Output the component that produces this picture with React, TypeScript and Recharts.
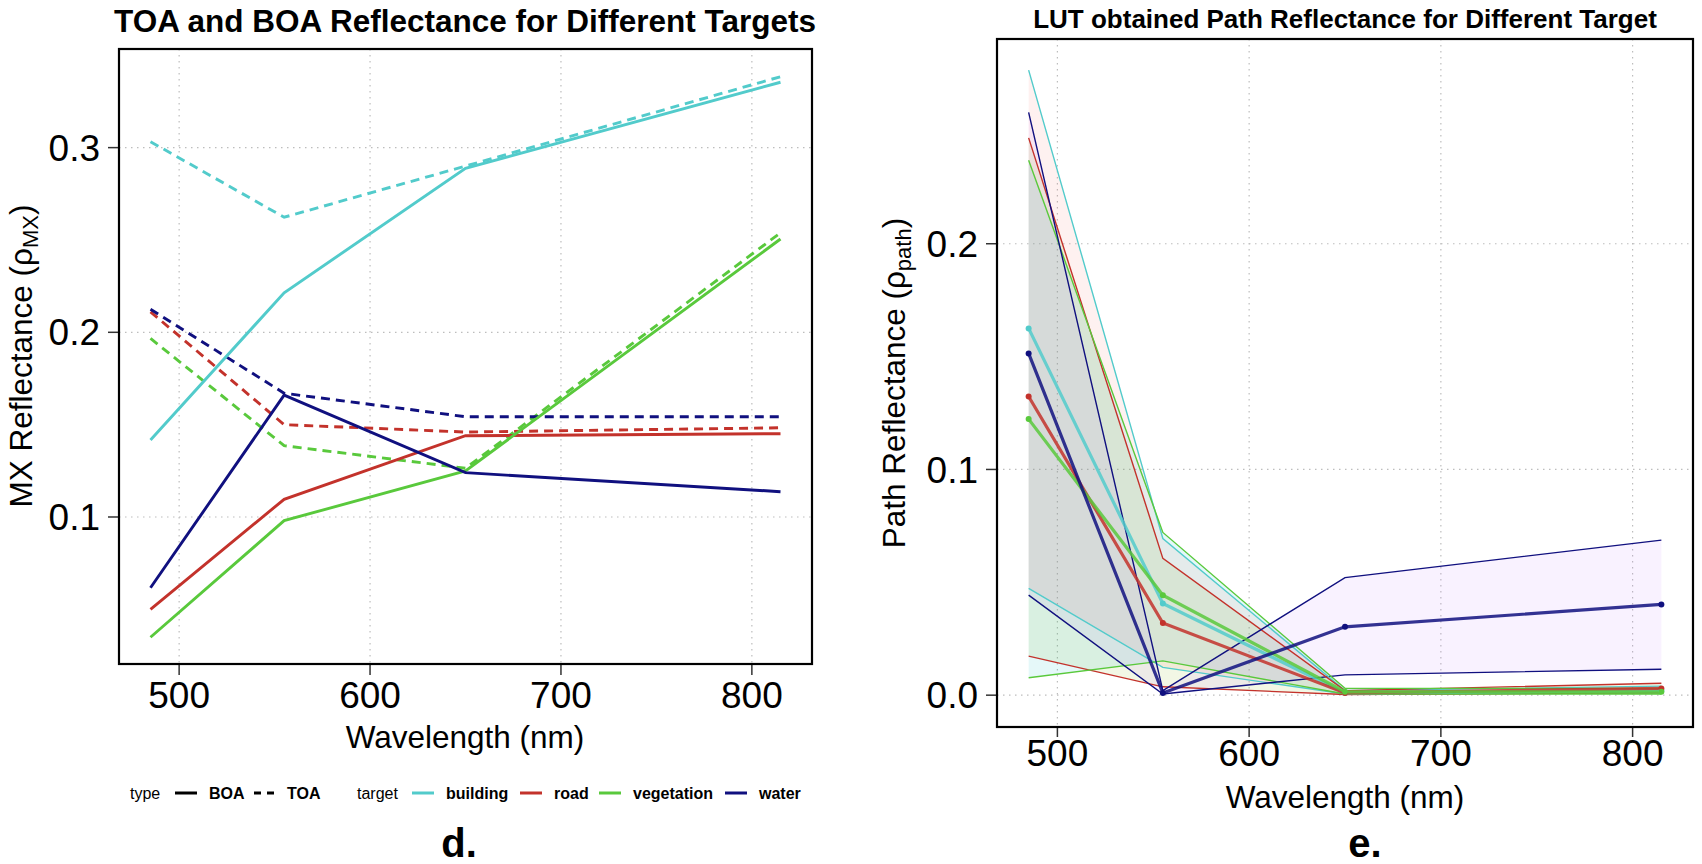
import React from "react";
import { ComposedChart, LineChart, Line, Area, XAxis, YAxis, CartesianGrid } from "recharts";

// ── Data ─────────────────────────────────────────────────────────────

const wavelengths = [485, 555, 650, 815];
const targets = ["building", "road", "vegetation", "water"];
const xTicks = [500, 600, 700, 800];
const leftYTicks = [0.1, 0.2, 0.3];
const rightYTicks = [0, 0.1, 0.2];

// panel d: BOA / TOA reflectance
const buildingBOA = [0.1417, 0.2214, 0.2888, 0.3354];
const buildingTOA = [0.3032, 0.2623, 0.29, 0.3384];
const roadBOA = [0.05, 0.1096, 0.144, 0.1451];
const roadTOA = [0.2111, 0.15, 0.146, 0.1483];
const vegetationBOA = [0.0349, 0.098, 0.125, 0.2505];
const vegetationTOA = [0.1967, 0.1386, 0.1264, 0.2539];
const waterBOA = [0.0617, 0.166, 0.124, 0.1137];
const waterTOA = [0.2125, 0.167, 0.1543, 0.1543];

// panel e: LUT path reflectance (min / mean / max)
const buildingMin = [0.0473, 0.0123, 0.0005, 0.001];
const buildingMean = [0.1625, 0.0406, 0.001, 0.002];
const buildingMax = [0.2769, 0.0694, 0.002, 0.004];
const roadMin = [0.0173, 0.0037, 0.0003, 0.001];
const roadMean = [0.1323, 0.032, 0.001, 0.003];
const roadMax = [0.2469, 0.0606, 0.002, 0.0053];
const vegetationMin = [0.0077, 0.0152, 0.0005, 0.0005];
const vegetationMean = [0.1223, 0.0443, 0.0015, 0.0015];
const vegetationMax = [0.237, 0.0721, 0.003, 0.003];
const waterMin = [0.0443, 0.0005, 0.009, 0.0115];
const waterMean = [0.1514, 0.001, 0.0303, 0.0402];
const waterMax = [0.2582, 0.002, 0.0521, 0.0687];

// ── Styles ───────────────────────────────────────────────────────────

const lineColor: Record<string, string> = {
  building: "#52CBCB",
  road: "#C3322B",
  vegetation: "#59C93C",
  water: "#10107F",
};

// ribbons use ggplot default hue fills
const ribbonFill: Record<string, string> = {
  building: "#F8766D",
  road: "#7CAE00",
  vegetation: "#00BFC4",
  water: "#C77CFF",
};

const FONT = "'Liberation Sans', Arial, Helvetica, sans-serif";

const boa: Record<string, number[]> = {
  building: buildingBOA,
  road: roadBOA,
  vegetation: vegetationBOA,
  water: waterBOA,
};
const toa: Record<string, number[]> = {
  building: buildingTOA,
  road: roadTOA,
  vegetation: vegetationTOA,
  water: waterTOA,
};
const pathMin: Record<string, number[]> = {
  building: buildingMin,
  road: roadMin,
  vegetation: vegetationMin,
  water: waterMin,
};
const pathMean: Record<string, number[]> = {
  building: buildingMean,
  road: roadMean,
  vegetation: vegetationMean,
  water: waterMean,
};
const pathMax: Record<string, number[]> = {
  building: buildingMax,
  road: roadMax,
  vegetation: vegetationMax,
  water: waterMax,
};

const reflRows = wavelengths.map((wl, i) => {
  const row: Record<string, number> = { wl };
  targets.forEach((t) => {
    row[`${t}_BOA`] = boa[t][i];
    row[`${t}_TOA`] = toa[t][i];
  });
  return row;
});

const pathRows = wavelengths.map((wl, i) => {
  const row: Record<string, unknown> = { wl };
  targets.forEach((t) => {
    row[`${t}_min`] = pathMin[t][i];
    row[`${t}_mean`] = pathMean[t][i];
    row[`${t}_max`] = pathMax[t][i];
    row[`${t}_range`] = [pathMin[t][i], pathMax[t][i]];
  });
  return row;
});

const tickStyle = { fontSize: 37, fill: "#000", fontFamily: FONT };
const tickLineStyle = { stroke: "#333", strokeWidth: 1.5 };
const gridProps = { stroke: "#BDBDBD", strokeDasharray: "1.5 4.5", strokeWidth: 1.2 };

// legend layout for panel d
const legendTargetX: Record<string, number> = {
  building: 412,
  road: 520,
  vegetation: 599,
  water: 725,
};

// ── Component ────────────────────────────────────────────────────────

export default function App() {
  return (
    <div style={{ position: "absolute", left: 0, top: 0, width: 1702, height: 864, background: "#fff" }}>
      {/* panel d */}
      <div style={{ position: "absolute", left: 0, top: 0 }}>
        <LineChart width={850} height={864} data={reflRows} margin={{ top: 49, right: 38, bottom: 140, left: 0 }}>
          <CartesianGrid {...gridProps} />
          <XAxis
            dataKey="wl"
            type="number"
            domain={[468.5, 831.5]}
            ticks={xTicks}
            allowDataOverflow
            height={60}
            axisLine={false}
            tickSize={11}
            tickMargin={7}
            tickLine={tickLineStyle}
            tick={tickStyle}
          />
          <YAxis
            type="number"
            domain={[0.0204, 0.3534]}
            ticks={leftYTicks}
            allowDataOverflow
            width={119}
            axisLine={false}
            tickSize={11}
            tickMargin={8}
            tickLine={tickLineStyle}
            tick={tickStyle}
            tickFormatter={(v: number) => v.toFixed(1)}
          />
          {targets.map((t) => (
            <Line
              key={`${t}_TOA`}
              type="linear"
              dataKey={`${t}_TOA`}
              stroke={lineColor[t]}
              strokeWidth={2.9}
              strokeDasharray="9 6"
              dot={false}
              isAnimationActive={false}
            />
          ))}
          {targets.map((t) => (
            <Line
              key={`${t}_BOA`}
              type="linear"
              dataKey={`${t}_BOA`}
              stroke={lineColor[t]}
              strokeWidth={2.9}
              dot={false}
              isAnimationActive={false}
            />
          ))}
        </LineChart>
      </div>

      {/* panel e */}
      <div style={{ position: "absolute", left: 850, top: 0 }}>
        <ComposedChart width={852} height={864} data={pathRows} margin={{ top: 39, right: 9, bottom: 77, left: 0 }}>
          <CartesianGrid {...gridProps} />
          <XAxis
            dataKey="wl"
            type="number"
            domain={[468.5, 831.5]}
            ticks={xTicks}
            allowDataOverflow
            height={60}
            axisLine={false}
            tickSize={10}
            tickMargin={3}
            tickLine={tickLineStyle}
            tick={tickStyle}
          />
          <YAxis
            type="number"
            domain={[-0.0141, 0.2907]}
            ticks={rightYTicks}
            allowDataOverflow
            width={147}
            axisLine={false}
            tickSize={11}
            tickMargin={8}
            tickLine={tickLineStyle}
            tick={tickStyle}
            tickFormatter={(v: number) => v.toFixed(1)}
          />
          {targets.map((t) => (
            <Area
              key={`${t}_range`}
              type="linear"
              dataKey={`${t}_range`}
              fill={ribbonFill[t]}
              fillOpacity={0.1}
              stroke="none"
              dot={false}
              activeDot={false}
              isAnimationActive={false}
            />
          ))}
          {targets.map((t) => (
            <Line
              key={`${t}_min`}
              type="linear"
              dataKey={`${t}_min`}
              stroke={lineColor[t]}
              strokeWidth={1.4}
              dot={false}
              isAnimationActive={false}
            />
          ))}
          {targets.map((t) => (
            <Line
              key={`${t}_max`}
              type="linear"
              dataKey={`${t}_max`}
              stroke={lineColor[t]}
              strokeWidth={1.4}
              dot={false}
              isAnimationActive={false}
            />
          ))}
          {targets.map((t) => (
            <Line
              key={`${t}_mean`}
              type="linear"
              dataKey={`${t}_mean`}
              stroke={lineColor[t]}
              strokeOpacity={0.85}
              strokeWidth={3.2}
              dot={{ r: 3, fill: lineColor[t], stroke: lineColor[t], strokeWidth: 0 }}
              isAnimationActive={false}
            />
          ))}
        </ComposedChart>
      </div>

      {/* frames, titles, labels, legend */}
      <svg width={1702} height={864} style={{ position: "absolute", left: 0, top: 0, pointerEvents: "none" }} fontFamily={FONT}>
        <rect x={119} y={49} width={693} height={615} fill="none" stroke="#000" strokeWidth={2.2} />
        <rect x={997} y={39} width={696} height={688} fill="none" stroke="#000" strokeWidth={2.2} />

        <text x={465} y={32} textAnchor="middle" fontSize={31.5} fontWeight="bold">
          TOA and BOA Reflectance for Different Targets
        </text>
        <text x={1345} y={28} textAnchor="middle" fontSize={26} fontWeight="bold">
          LUT obtained Path Reflectance for Different Target
        </text>

        <text x={465} y={748} textAnchor="middle" fontSize={31.5}>
          Wavelength (nm)
        </text>
        <text x={1345} y={808} textAnchor="middle" fontSize={31.5}>
          Wavelength (nm)
        </text>

        <text transform="translate(32,356) rotate(-90)" textAnchor="middle" fontSize={31.5}>
          MX Reflectance (ρ
          <tspan fontSize={22} dy={6}>MX</tspan>
          <tspan dy={-6}>)</tspan>
        </text>
        <text transform="translate(905,383) rotate(-90)" textAnchor="middle" fontSize={31.5}>
          Path Reflectance (ρ
          <tspan fontSize={22} dy={6}>path</tspan>
          <tspan dy={-6}>)</tspan>
        </text>

        {/* legend */}
        <g fontSize={16}>
          <text x={130} y={799}>type</text>
          <line x1={175} x2={197} y1={793} y2={793} stroke="#000" strokeWidth={3} />
          <text x={209} y={799} fontWeight="bold">BOA</text>
          <line x1={254} x2={274} y1={793} y2={793} stroke="#000" strokeWidth={3} strokeDasharray="7 6" />
          <text x={287} y={799} fontWeight="bold">TOA</text>
          <text x={357} y={799}>target</text>
          {targets.map((t) => (
            <g key={t}>
              <line x1={legendTargetX[t]} x2={legendTargetX[t] + 22} y1={793} y2={793} stroke={lineColor[t]} strokeWidth={3} />
              <text x={legendTargetX[t] + 34} y={799} fontWeight="bold">{t}</text>
            </g>
          ))}
        </g>

        <text x={459} y={857} textAnchor="middle" fontSize={40} fontWeight="bold">d.</text>
        <text x={1365} y={857} textAnchor="middle" fontSize={40} fontWeight="bold">e.</text>
      </svg>
    </div>
  );
}
